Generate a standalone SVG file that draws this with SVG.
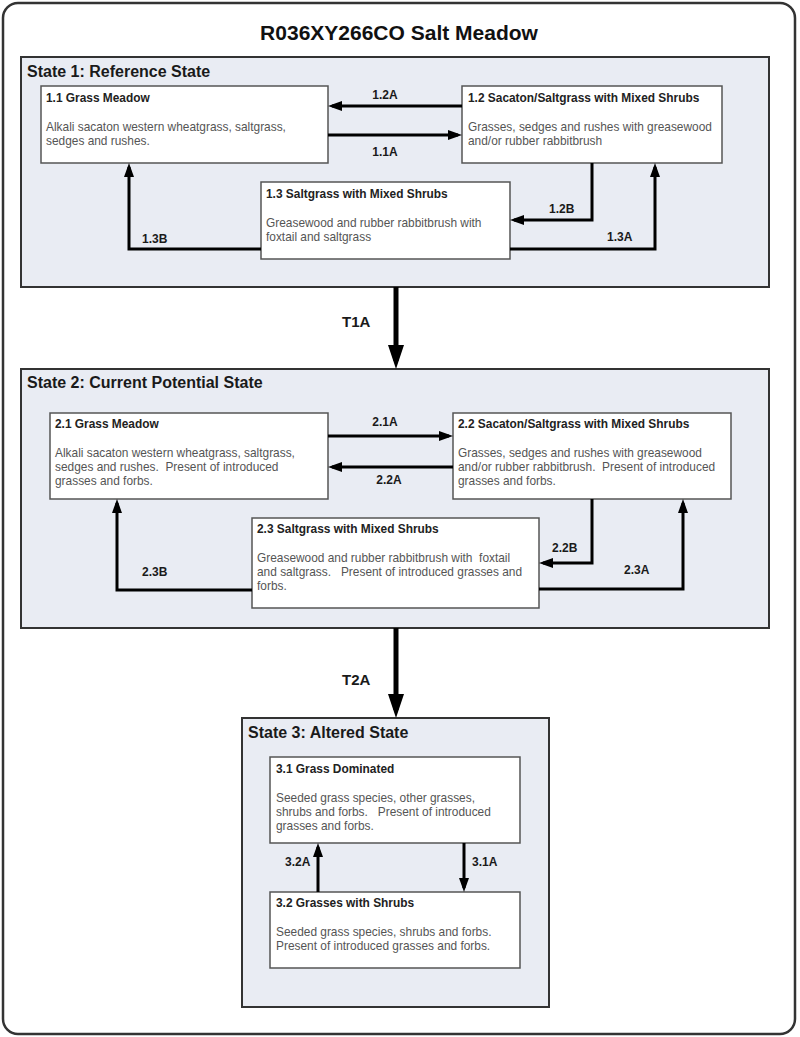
<svg xmlns="http://www.w3.org/2000/svg" width="800" height="1037" viewBox="0 0 800 1037">
<style>
text{font-family:"Liberation Sans",Arial,sans-serif;white-space:pre}
.title{font-size:21px;font-weight:bold;fill:#111}
.state{fill:#e9ecf3;stroke:#333;stroke-width:2}
.slabel{font-size:16px;font-weight:bold;fill:#1a1a1a}
.box{fill:#fff;stroke:#555;stroke-width:1.5}
.nt{font-size:11.9px;font-weight:bold;fill:#222}
.nb{font-size:11.9px;fill:#555}
.arr{fill:none;stroke:#000;stroke-width:3;marker-end:url(#ah)}
.tarr{fill:none;stroke:#000;stroke-width:5;marker-end:url(#th)}
.al{font-size:12px;font-weight:bold;fill:#1a1a1a}
.tl{font-size:15px;font-weight:bold;fill:#1a1a1a}
</style>
<defs>
<marker id="ah" markerUnits="userSpaceOnUse" markerWidth="14" markerHeight="10" refX="10" refY="5" orient="auto"><path d="M0,0 L14,5 L0,10 z" fill="#000"/></marker>
<marker id="th" markerUnits="userSpaceOnUse" markerWidth="24" markerHeight="16" refX="16" refY="8" orient="auto"><path d="M0,0 L24,8 L0,16 z" fill="#000"/></marker>
</defs>
<rect x="0" y="0" width="800" height="1037" fill="#fff"/>
<rect x="3" y="3" width="792" height="1031" rx="15" fill="#fff" stroke="#333" stroke-width="2.5"/>
<text class="title" x="399" y="40" text-anchor="middle">R036XY266CO Salt Meadow</text>

<g id="state1"><rect class="state" x="21" y="57" width="748" height="230"/><text class="slabel" x="27" y="77">State 1: Reference State</text></g>
<g id="state2"><rect class="state" x="21" y="369" width="748" height="259"/><text class="slabel" x="27" y="388">State 2: Current Potential State</text></g>
<g id="state3"><rect class="state" x="242" y="718" width="307" height="289"/><text class="slabel" x="248" y="738">State 3: Altered State</text></g>

<g id="n11"><rect class="box" x="41" y="86" width="287" height="77"/><text class="nt" x="46" y="102">1.1 Grass Meadow</text><text class="nb" x="46" y="131">Alkali sacaton western wheatgrass, saltgrass,</text><text class="nb" x="46" y="145">sedges and rushes.</text></g>
<g id="n12"><rect class="box" x="462" y="86" width="260" height="77"/><text class="nt" x="468" y="102">1.2 Sacaton/Saltgrass with Mixed Shrubs</text><text class="nb" x="468" y="131">Grasses, sedges and rushes with greasewood</text><text class="nb" x="468" y="145">and/or rubber rabbitbrush</text></g>
<g id="n13"><rect class="box" x="261" y="182" width="249" height="77"/><text class="nt" x="266" y="198">1.3 Saltgrass with Mixed Shrubs</text><text class="nb" x="266" y="227">Greasewood and rubber rabbitbrush with</text><text class="nb" x="266" y="241">foxtail and saltgrass</text></g>

<g id="n21"><rect class="box" x="50" y="413" width="278" height="86"/><text class="nt" x="55" y="428">2.1 Grass Meadow</text><text class="nb" x="55" y="457">Alkali sacaton western wheatgrass, saltgrass,</text><text class="nb" x="55" y="471">sedges and rushes.  Present of introduced</text><text class="nb" x="55" y="485">grasses and forbs.</text></g>
<g id="n22"><rect class="box" x="453" y="413" width="278" height="86"/><text class="nt" x="458" y="428">2.2 Sacaton/Saltgrass with Mixed Shrubs</text><text class="nb" x="458" y="457">Grasses, sedges and rushes with greasewood</text><text class="nb" x="458" y="471">and/or rubber rabbitbrush.  Present of introduced</text><text class="nb" x="458" y="485">grasses and forbs.</text></g>
<g id="n23"><rect class="box" x="252" y="518" width="287" height="90"/><text class="nt" x="257" y="533">2.3 Saltgrass with Mixed Shrubs</text><text class="nb" x="257" y="562">Greasewood and rubber rabbitbrush with  foxtail</text><text class="nb" x="257" y="576">and saltgrass.   Present of introduced grasses and</text><text class="nb" x="257" y="590">forbs.</text></g>

<g id="n31"><rect class="box" x="270" y="757" width="250" height="86"/><text class="nt" x="276" y="773">3.1 Grass Dominated</text><text class="nb" x="276" y="802">Seeded grass species, other grasses,</text><text class="nb" x="276" y="816">shrubs and forbs.   Present of introduced</text><text class="nb" x="276" y="830">grasses and forbs.</text></g>
<g id="n32"><rect class="box" x="270" y="892" width="250" height="76"/><text class="nt" x="276" y="907">3.2 Grasses with Shrubs</text><text class="nb" x="276" y="936">Seeded grass species, shrubs and forbs.</text><text class="nb" x="276" y="950">Present of introduced grasses and forbs.</text></g>

<g id="connectors">
<path class="arr" d="M462,106 H332"/>
<path class="arr" d="M328,135 H458"/>
<path class="arr" d="M592,163 V220 H514"/>
<path class="arr" d="M510,249 H655 V167"/>
<path class="arr" d="M261,249 H129 V167"/>
<path class="arr" d="M328,436 H449"/>
<path class="arr" d="M453,467 H332"/>
<path class="arr" d="M592,499 V563 H543"/>
<path class="arr" d="M539,589 H683 V503"/>
<path class="arr" d="M252,590 H117 V503"/>
<path class="arr" d="M318,892 V847"/>
<path class="arr" d="M464,843 V888"/>
<path class="tarr" d="M396,287 V361"/>
<path class="tarr" d="M396,628 V710"/>
<text class="al" x="385" y="99" text-anchor="middle">1.2A</text>
<text class="al" x="385" y="156" text-anchor="middle">1.1A</text>
<text class="al" x="549" y="213">1.2B</text>
<text class="al" x="607" y="241">1.3A</text>
<text class="al" x="142" y="243">1.3B</text>
<text class="al" x="385" y="426" text-anchor="middle">2.1A</text>
<text class="al" x="389" y="484" text-anchor="middle">2.2A</text>
<text class="al" x="552" y="552">2.2B</text>
<text class="al" x="624" y="574">2.3A</text>
<text class="al" x="142" y="576">2.3B</text>
<text class="al" x="285" y="866">3.2A</text>
<text class="al" x="472" y="866">3.1A</text>
<text class="tl" x="342" y="327">T1A</text>
<text class="tl" x="342" y="685">T2A</text>
</g>
</svg>
